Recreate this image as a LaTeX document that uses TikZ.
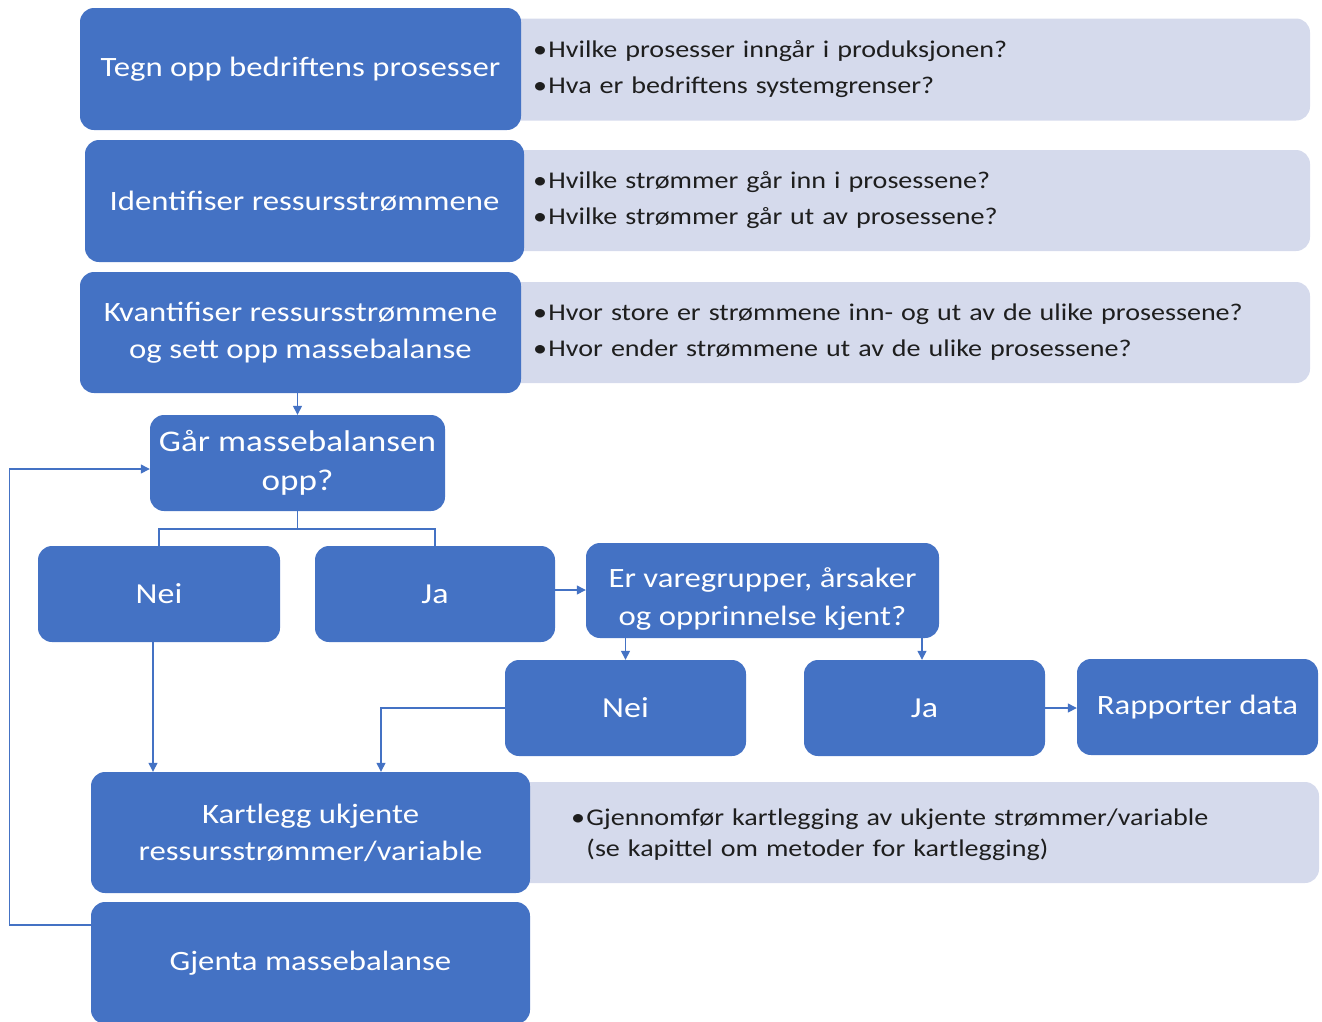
\documentclass[tikz,border=0pt]{standalone}
\usepackage{fontspec}
\setmainfont{Carlito}[FakeStretch=1.17]
\usetikzlibrary{arrows.meta}
\definecolor{bblue}{HTML}{4472C4}
\definecolor{lgray}{HTML}{D5DAEC}
\definecolor{tdark}{HTML}{1E1E1E}
\newcommand{\bul}{•\hspace{1.5pt}}
\begin{document}
\begin{tikzpicture}[x=1pt,y=-1pt,
  bbox/.style={rectangle, rounded corners=14pt, fill=bblue, text=white, align=center, inner sep=0pt, font=\fontsize{28}{37}\selectfont},
  btext/.style={text=white, align=center, inner sep=0pt, font=\fontsize{28}{38}\selectfont},
  gbox/.style={rectangle, rounded corners=14pt, fill=lgray, text=tdark, align=left, inner ysep=0pt, font=\fontsize{24}{36}\selectfont},
  conn/.style={draw=bblue, line width=1.3pt},
  arr/.style={conn, -{Triangle[length=9pt,width=9pt]}}]
\useasboundingbox (0,0) rectangle (1322,1021);
\clip (0,0) rectangle (1322,1021);

% grey question boxes
\node[gbox, minimum height=102pt, inner xsep=33pt, text width=744pt] (g1) at (905,69.5)
  {\bul Hvilke prosesser inngår i produksjonen?\\\bul Hva er bedriftens systemgrenser?};
\node[gbox, minimum height=101pt, inner xsep=33pt, text width=744pt] (g2) at (905,200.5)
  {\bul Hvilke strømmer går inn i prosessene?\\\bul Hvilke strømmer går ut av prosessene?};
\node[gbox, minimum height=101pt, inner xsep=33pt, text width=744pt] (g3) at (905,332.5)
  {\bul Hvor store er strømmene inn- og ut av de ulike prosessene?\\\bul Hvor ender strømmene ut av de ulike prosessene?};
\node[gbox, minimum height=101pt, inner xsep=61pt, text width=687pt, font=\fontsize{24}{31}\selectfont,
  label={[gbox, fill=none, font=\fontsize{24}{31}\selectfont, inner xsep=0pt, text width=687pt, yshift=-2pt]center:\bul Gjennomfør kartlegging av ukjente strømmer/variable\\\phantom{\bul}(se kapittel om metoder for kartlegging)}] (g4) at (914.5,832.5) {};

% blue boxes
\node[bbox, minimum width=441pt, minimum height=122pt] (tegn) at (300.5,69) {Tegn opp bedriftens prosesser};
\node[bbox, minimum width=439pt, minimum height=122pt] (ident) at (304.5,201) {Identifiser ressursstrømmene};
\node[bbox, minimum width=441pt, minimum height=121pt] (kvant) at (300.5,332.5) {Kvantifiser ressursstrømmene\\og sett opp massebalanse};
\node[bbox, minimum width=295pt, minimum height=96pt, font=\fontsize{30}{39}\selectfont] (gaar) at (297.5,463) {Går massebalansen\\opp?};
\node[bbox, minimum width=242pt, minimum height=96pt, font=\fontsize{29}{37}\selectfont] (nei1) at (159,594) {Nei};
\node[bbox, minimum width=240pt, minimum height=96pt, font=\fontsize{29}{37}\selectfont] (ja1) at (435,594) {Ja};
\node[bbox, minimum width=353pt, minimum height=95pt,
  label={[btext, yshift=-8pt]center:Er varegrupper, årsaker\\og opprinnelse kjent?}] (er) at (762.5,590.5) {};
\node[bbox, minimum width=241pt, minimum height=96pt, font=\fontsize{29}{37}\selectfont] (nei2) at (625.5,708) {Nei};
\node[bbox, minimum width=241pt, minimum height=96pt, font=\fontsize{29}{37}\selectfont] (ja2) at (924.5,708) {Ja};
\node[bbox, minimum width=241pt, minimum height=96pt] (rapp) at (1197.5,707) {Rapporter data};
\node[bbox, minimum width=439pt, minimum height=121pt] (kart) at (310.5,832.5) {Kartlegg ukjente\\ressursstrømmer/variable};
\node[bbox, minimum width=439pt, minimum height=122pt] (gjen) at (310.5,963) {Gjenta massebalanse};

% connectors
\draw[arr] (gaar.north |- kvant.south) -- (gaar.north);
\coordinate (split) at (297.5,529);
\draw[conn] (gaar.south) -- (split);
\draw[conn] (split) -| (nei1.north);
\draw[conn] (split) -| (ja1.north);
\draw[arr] ([yshift=4pt]ja1.east) -- ([yshift=4pt]ja1.east -| er.west);
\draw[arr] (er.south -| nei2.north) -- (nei2.north);
\draw[arr] ([xshift=-2.5pt]er.south -| ja2.north) -- ([xshift=-2.5pt]ja2.north);
\draw[arr] (ja2.east) -- (ja2.east -| rapp.west);
\draw[arr] ([xshift=-6pt]nei1.south) -- ([xshift=-6pt]nei1.south |- kart.north);
\draw[arr] (nei2.west) -| ([xshift=70.5pt]kart.north);
\draw[arr] ([yshift=38pt]gjen.west) -- ++(-81,0) |- ([yshift=-6pt]gaar.west);
\end{tikzpicture}
\end{document}
